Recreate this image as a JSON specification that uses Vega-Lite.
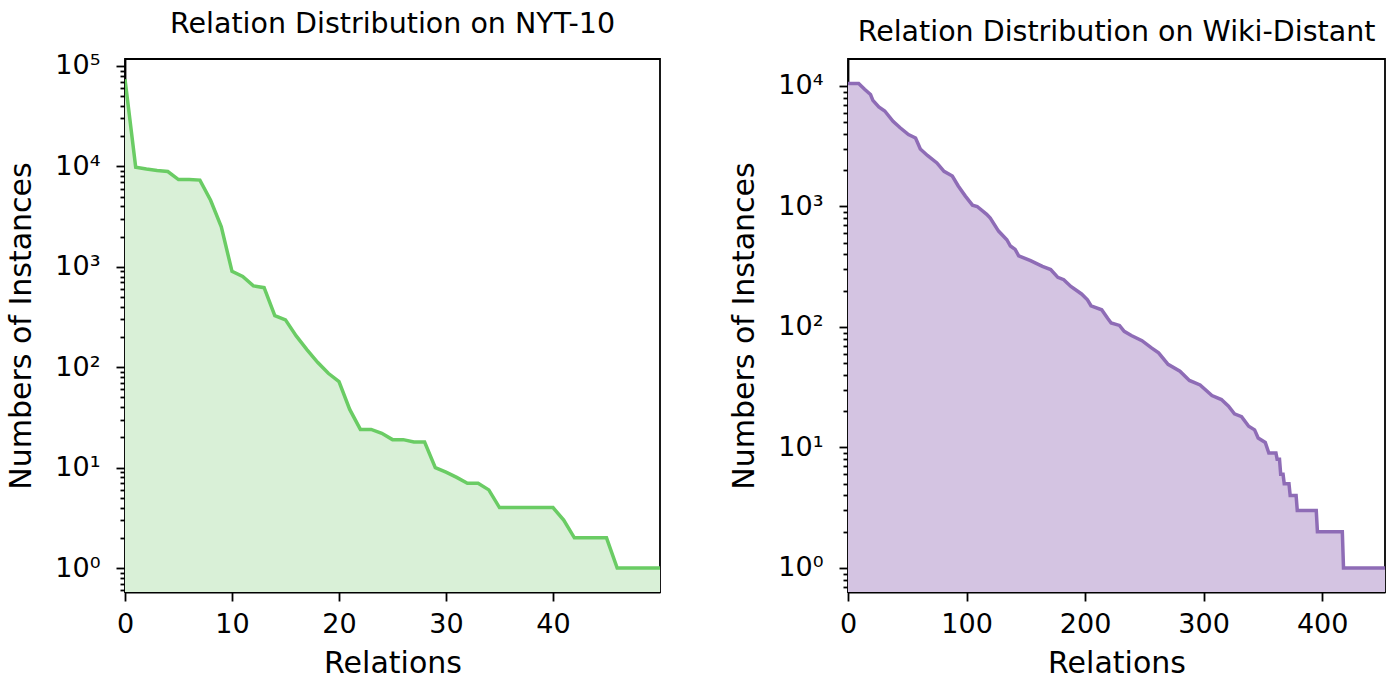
{
  "$schema": "https://vega.github.io/schema/vega-lite/v6.json",
  "padding": {"left": 5, "top": 9, "right": 5, "bottom": 5},
  "background": "white",
  "datasets": {
    "nyt": [
      {"relation": 0, "count": 74000}, {"relation": 1, "count": 9800}, {"relation": 2, "count": 9400},
      {"relation": 3, "count": 9100}, {"relation": 4, "count": 8900}, {"relation": 5, "count": 7400},
      {"relation": 6, "count": 7400}, {"relation": 7, "count": 7300}, {"relation": 8, "count": 4600},
      {"relation": 9, "count": 2500}, {"relation": 10, "count": 900}, {"relation": 11, "count": 800},
      {"relation": 12, "count": 645}, {"relation": 13, "count": 620}, {"relation": 14, "count": 327},
      {"relation": 15, "count": 296}, {"relation": 16, "count": 205}, {"relation": 17, "count": 150},
      {"relation": 18, "count": 112}, {"relation": 19, "count": 87}, {"relation": 20, "count": 72},
      {"relation": 21, "count": 38}, {"relation": 22, "count": 24}, {"relation": 23, "count": 24},
      {"relation": 24, "count": 22}, {"relation": 25, "count": 19}, {"relation": 26, "count": 19},
      {"relation": 27, "count": 18}, {"relation": 28, "count": 18}, {"relation": 29, "count": 10},
      {"relation": 30, "count": 9}, {"relation": 31, "count": 8}, {"relation": 32, "count": 7},
      {"relation": 33, "count": 7}, {"relation": 34, "count": 6}, {"relation": 35, "count": 4},
      {"relation": 36, "count": 4}, {"relation": 37, "count": 4}, {"relation": 38, "count": 4},
      {"relation": 39, "count": 4}, {"relation": 40, "count": 4}, {"relation": 41, "count": 3},
      {"relation": 42, "count": 2}, {"relation": 43, "count": 2}, {"relation": 44, "count": 2},
      {"relation": 45, "count": 2}, {"relation": 46, "count": 1}, {"relation": 47, "count": 1},
      {"relation": 48, "count": 1}, {"relation": 49, "count": 1}, {"relation": 50, "count": 1}
    ],
    "wiki": [
      {"relation": 0, "count": 10500}, {"relation": 9, "count": 10500}, {"relation": 14, "count": 9400},
      {"relation": 19, "count": 8500}, {"relation": 21, "count": 7600}, {"relation": 26, "count": 6700},
      {"relation": 31, "count": 6200}, {"relation": 38, "count": 5100}, {"relation": 44, "count": 4500},
      {"relation": 51, "count": 3950}, {"relation": 57, "count": 3700}, {"relation": 61, "count": 3000},
      {"relation": 67, "count": 2650}, {"relation": 75, "count": 2300}, {"relation": 81, "count": 1960},
      {"relation": 88, "count": 1790}, {"relation": 93, "count": 1480}, {"relation": 99, "count": 1220},
      {"relation": 105, "count": 1025}, {"relation": 109, "count": 1000}, {"relation": 117, "count": 860},
      {"relation": 120, "count": 800}, {"relation": 127, "count": 625}, {"relation": 134, "count": 530},
      {"relation": 137, "count": 470}, {"relation": 141, "count": 440}, {"relation": 144, "count": 390},
      {"relation": 154, "count": 355}, {"relation": 164, "count": 318}, {"relation": 171, "count": 300},
      {"relation": 177, "count": 258}, {"relation": 182, "count": 247}, {"relation": 188, "count": 217},
      {"relation": 197, "count": 188}, {"relation": 202, "count": 168}, {"relation": 205, "count": 150},
      {"relation": 214, "count": 139}, {"relation": 219, "count": 118}, {"relation": 222, "count": 108},
      {"relation": 229, "count": 103}, {"relation": 233, "count": 92}, {"relation": 239, "count": 85},
      {"relation": 248, "count": 77}, {"relation": 256, "count": 67}, {"relation": 262, "count": 61},
      {"relation": 270, "count": 49}, {"relation": 280, "count": 43}, {"relation": 288, "count": 36},
      {"relation": 297, "count": 33}, {"relation": 307, "count": 27}, {"relation": 315, "count": 25},
      {"relation": 321, "count": 22}, {"relation": 326, "count": 19}, {"relation": 332, "count": 18},
      {"relation": 338, "count": 15}, {"relation": 343, "count": 14}, {"relation": 346, "count": 12},
      {"relation": 352, "count": 11}, {"relation": 355, "count": 9}, {"relation": 361, "count": 9},
      {"relation": 362, "count": 8}, {"relation": 364, "count": 8}, {"relation": 365, "count": 6},
      {"relation": 367, "count": 6}, {"relation": 368, "count": 5}, {"relation": 372, "count": 5},
      {"relation": 373, "count": 4}, {"relation": 378, "count": 4}, {"relation": 379, "count": 3},
      {"relation": 395, "count": 3}, {"relation": 396, "count": 2}, {"relation": 417, "count": 2},
      {"relation": 418, "count": 1}, {"relation": 453, "count": 1}
    ]
  },
  "config": {
    "font": "DejaVu Sans",
    "view": {"stroke": "black", "strokeWidth": 1.8},
    "title": {"fontSize": 28.5, "fontWeight": "normal", "color": "black", "offset": 13},
    "axis": {
      "grid": false,
      "labelFontSize": 27,
      "titleFontSize": 30,
      "titleFontWeight": "normal",
      "labelColor": "black",
      "titleColor": "black",
      "tickColor": "black",
      "tickWidth": 1.8,
      "tickSize": 9,
      "domainColor": "black",
      "domainWidth": 1.8,
      "labelFlush": false,
      "labelOverlap": false
    },
    "axisX": {"labelPadding": 10, "titlePadding": 11},
    "axisY": {"labelPadding": 16, "titlePadding": 18}
  },
  "spacing": 67,
  "hconcat": [
    {
      "title": "Relation Distribution on NYT-10",
      "width": 535,
      "height": 533,
      "data": {"name": "nyt"},
      "encoding": {
        "x": {
          "field": "relation", "type": "quantitative",
          "scale": {"domain": [0, 50], "nice": false, "zero": false},
          "axis": {"title": "Relations", "values": [0, 10, 20, 30, 40]}
        },
        "y": {
          "field": "count", "type": "quantitative",
          "scale": {"type": "log", "domain": [0.577, 117400], "nice": false},
          "axis": {
            "title": "Numbers of Instances",
            "values": [0.6, 0.7, 0.8, 0.9, 1, 2, 3, 4, 5, 6, 7, 8, 9, 10, 20, 30, 40, 50, 60, 70, 80, 90, 100, 200, 300, 400, 500, 600, 700, 800, 900, 1000, 2000, 3000, 4000, 5000, 6000, 7000, 8000, 9000, 10000, 20000, 30000, 40000, 50000, 60000, 70000, 80000, 90000, 100000],
            "labelExpr": "abs(log(datum.value)/LN10 - round(log(datum.value)/LN10)) < 0.001 ? '10' + ['⁰','¹','²','³','⁴','⁵'][round(log(datum.value)/LN10)] : ''",
            "tickSize": {"condition": {"test": "abs(log(datum.value)/LN10 - round(log(datum.value)/LN10)) < 0.001", "value": 9}, "value": 5}
          }
        }
      },
      "layer": [
        {"mark": {"type": "area", "color": "#d9f0d7", "clip": true}, "encoding": {"y2": {"datum": 0.577}}},
        {"mark": {"type": "line", "color": "#6acc64", "strokeWidth": 3.5, "clip": true}}
      ]
    },
    {
      "title": "Relation Distribution on Wiki-Distant",
      "width": 537,
      "height": 533,
      "data": {"name": "wiki"},
      "encoding": {
        "x": {
          "field": "relation", "type": "quantitative",
          "scale": {"domain": [0, 453], "nice": false, "zero": false},
          "axis": {"title": "Relations", "values": [0, 100, 200, 300, 400]}
        },
        "y": {
          "field": "count", "type": "quantitative",
          "scale": {"type": "log", "domain": [0.632, 16750], "nice": false},
          "axis": {
            "title": "Numbers of Instances",
            "values": [0.7, 0.8, 0.9, 1, 2, 3, 4, 5, 6, 7, 8, 9, 10, 20, 30, 40, 50, 60, 70, 80, 90, 100, 200, 300, 400, 500, 600, 700, 800, 900, 1000, 2000, 3000, 4000, 5000, 6000, 7000, 8000, 9000, 10000],
            "labelExpr": "abs(log(datum.value)/LN10 - round(log(datum.value)/LN10)) < 0.001 ? '10' + ['⁰','¹','²','³','⁴','⁵'][round(log(datum.value)/LN10)] : ''",
            "tickSize": {"condition": {"test": "abs(log(datum.value)/LN10 - round(log(datum.value)/LN10)) < 0.001", "value": 9}, "value": 5}
          }
        }
      },
      "layer": [
        {"mark": {"type": "area", "color": "#d4c4e2", "clip": true}, "encoding": {"y2": {"datum": 0.632}}},
        {"mark": {"type": "line", "color": "#8e6cb6", "strokeWidth": 3.5, "clip": true}}
      ]
    }
  ]
}
